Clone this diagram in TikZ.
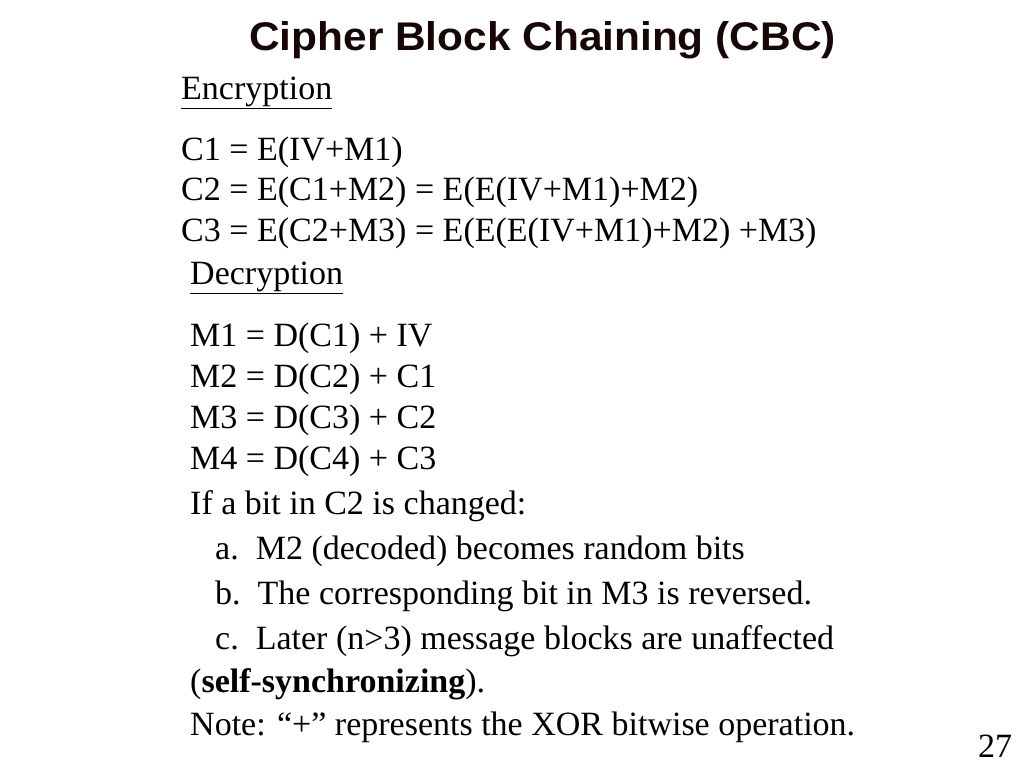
\documentclass[tikz,border=0pt]{standalone}
\usepackage{fontspec}
\setmainfont{Liberation Serif}
\newfontfamily\titlefont{Liberation Sans}
\definecolor{titlecol}{RGB}{22,6,6}
\begin{document}
\begin{tikzpicture}[x=1pt,y=-1pt,
  body/.style={anchor=base west,inner sep=0pt,font=\fontsize{34}{34}\selectfont},
  ttl/.style={anchor=base west,inner sep=0pt,font=\titlefont\bfseries\fontsize{40}{40}\selectfont,text=titlecol}]
\useasboundingbox[fill=white] (0,0) rectangle (1024,768);
\node[ttl,xscale=1.06] (title) at (249,50) {Cipher Block Chaining (CBC)};
\node[body] (enc) at (181,99) {\underline{Encryption}};
\node[body] (c1) at (181,160) {C1 = E(IV+M1)};
\node[body] (c2) at (181,200) {C2 = E(C1+M2) = E(E(IV+M1)+M2)};
\node[body] (c3) at (181,241) {C3 = E(C2+M3) = E(E(E(IV+M1)+M2) +M3)};
\node[body] (dec) at (190,284) {\underline{Decryption}};
\node[body] (m1) at (190,346) {M1 = D(C1) + IV};
\node[body] (m2) at (190,387) {M2 = D(C2) + C1};
\node[body] (m3) at (190,428) {M3 = D(C3) + C2};
\node[body] (m4) at (190,469) {M4 = D(C4) + C3};
\node[body] (ifb) at (190,514) {If a bit in C2 is changed:};
\node[body] (a) at (215,559) {a.\ \ M2 (decoded) becomes random bits};
\node[body] (b) at (215,604) {b.\ \ The corresponding bit in M3 is reversed.};
\node[body] (c) at (215,649) {c.\ \ Later (n>3) message blocks are unaffected};
\node[body] (ss) at (190,692) {(\textbf{self-synchronizing}).};
\node[body] (note) at (190,735) {Note: “+” represents the XOR bitwise operation.};
\node[body] (pg) at (978,757) {27};
\end{tikzpicture}
\end{document}
